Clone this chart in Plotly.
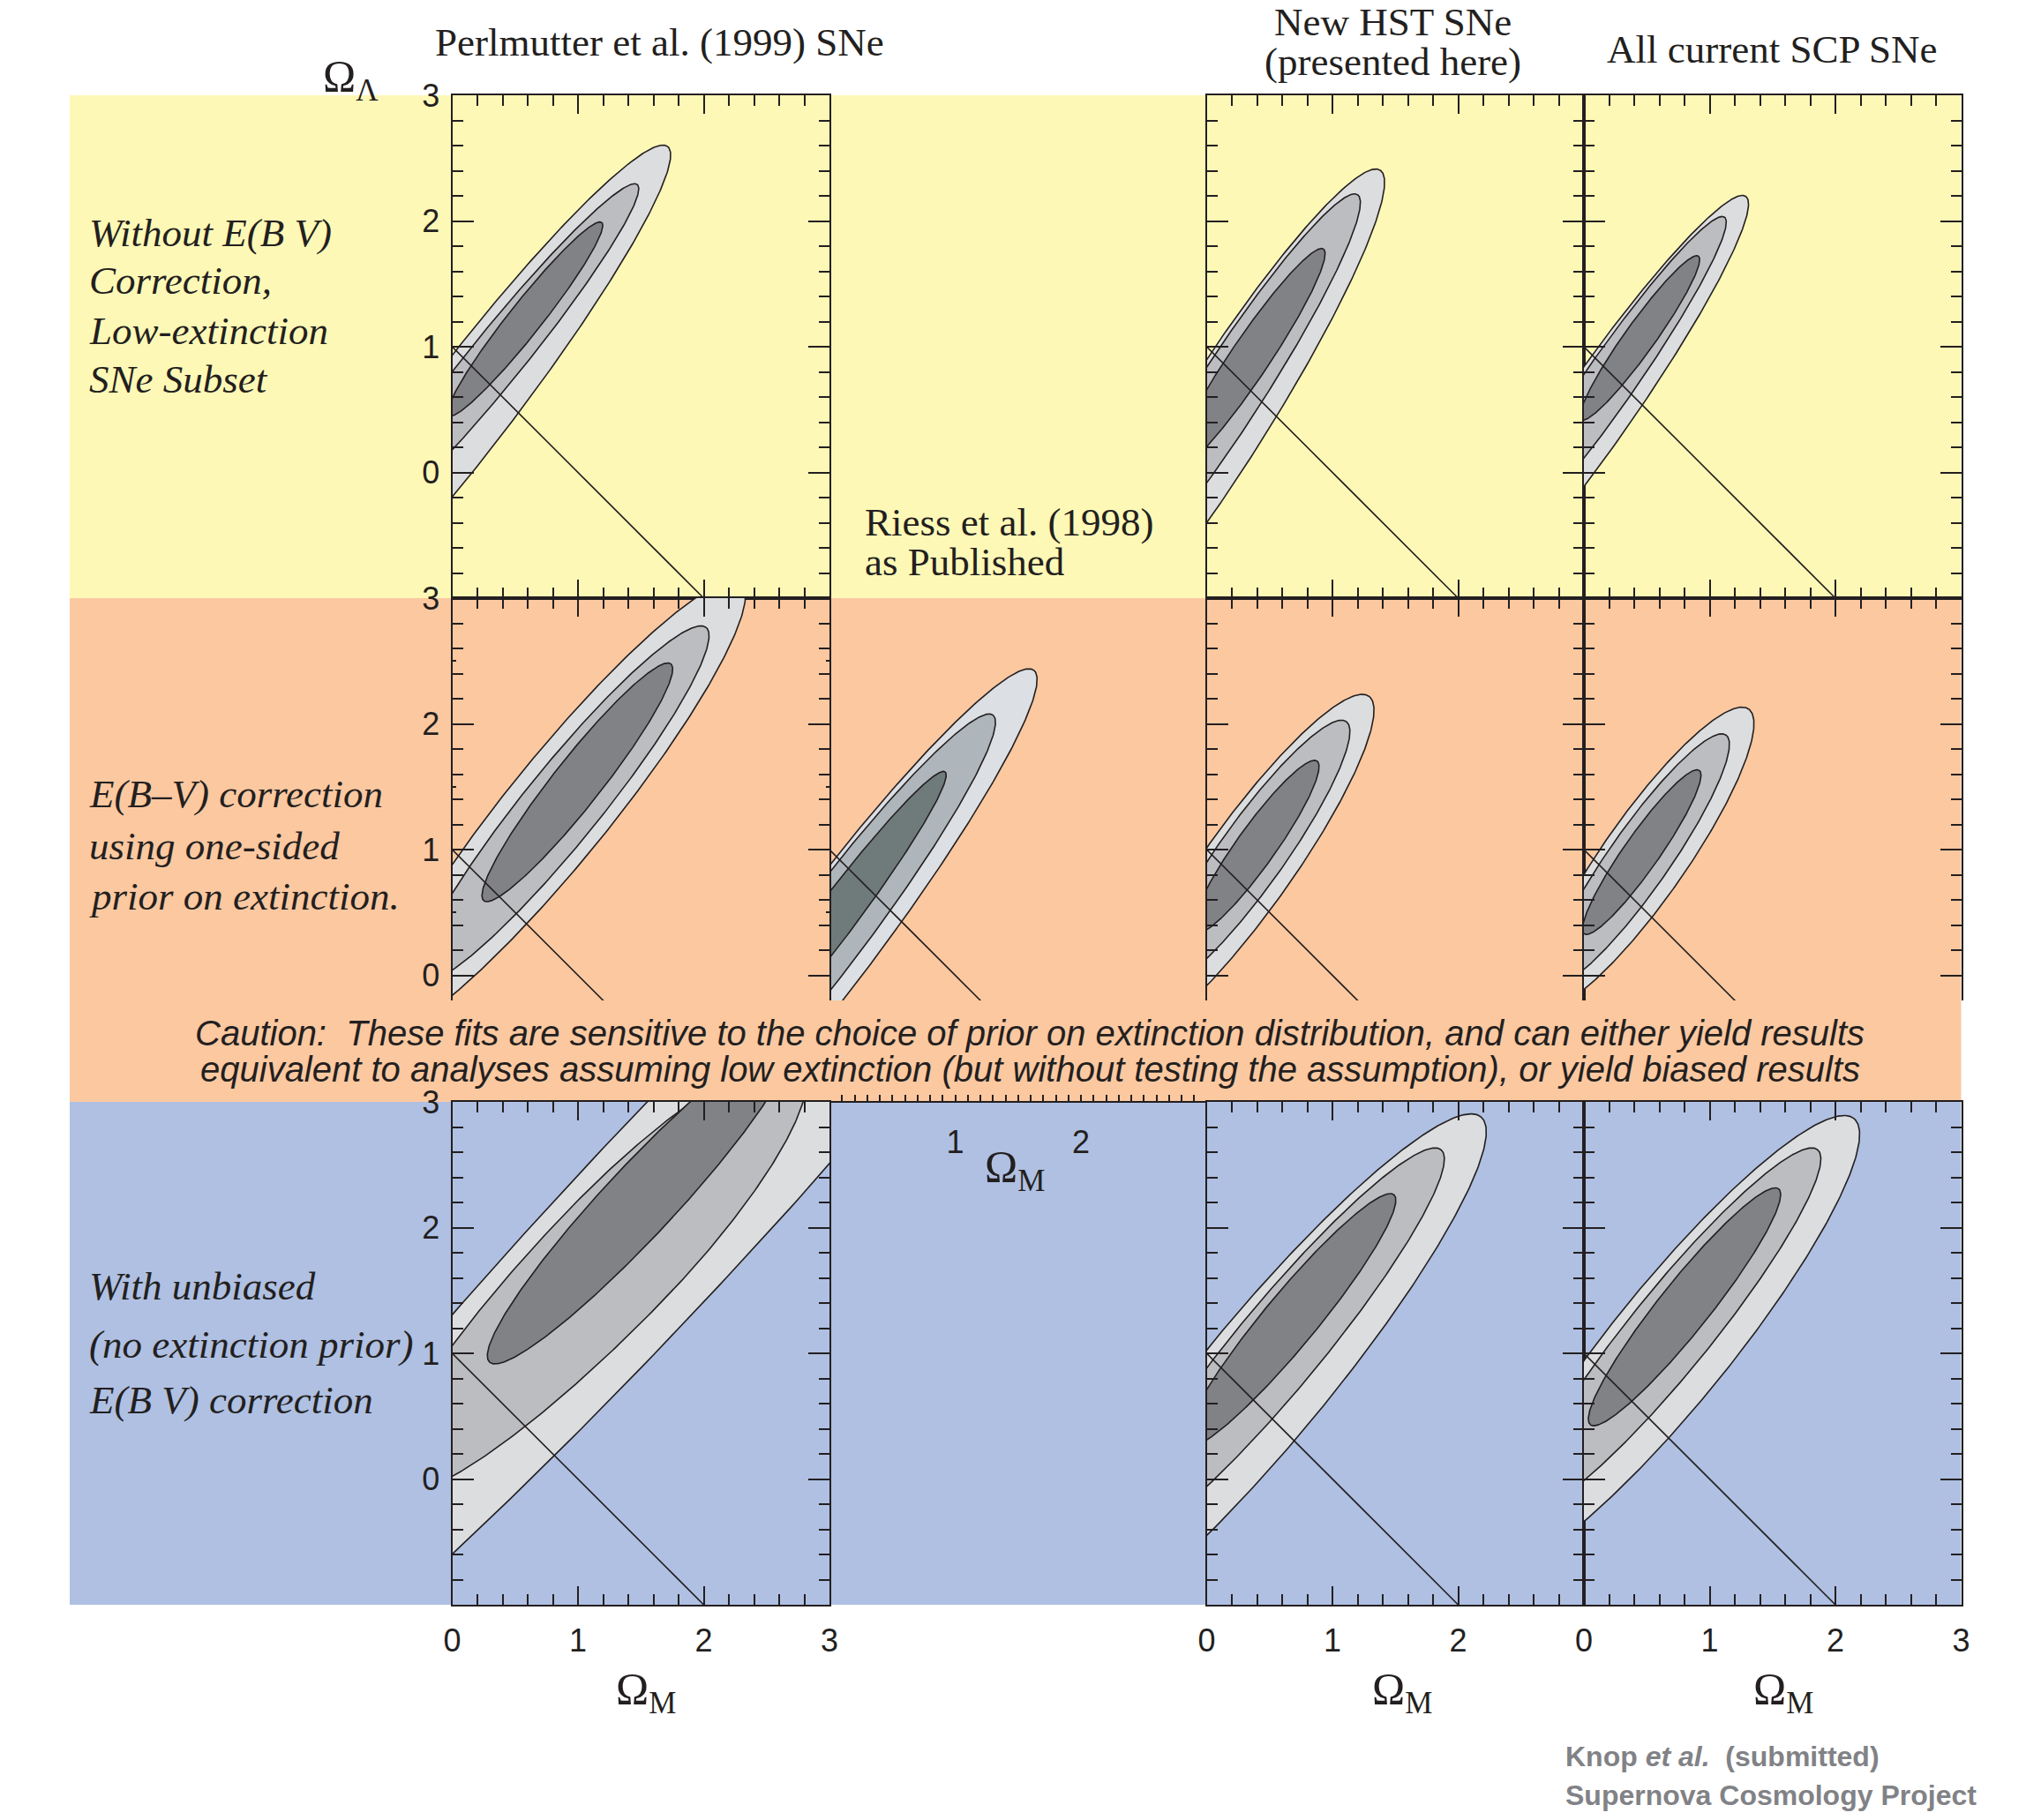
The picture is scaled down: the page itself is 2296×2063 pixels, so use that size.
import numpy as np
import plotly.graph_objects as go

# ---------------------------------------------------------------------------
# Confidence regions in the (Omega_M, Omega_Lambda) plane.
# Each row: centre Omega_M, centre Omega_Lambda, semi-axis towards the upper
# right, semi-axis towards the lower left, semi-minor axis, tilt [deg].
# Rows are ordered outer (99%), middle (95%), inner (68%).
# ---------------------------------------------------------------------------
perlmutter_lowext = [(0.13, 0.53, 2.60, 2.60, 0.35, 52.5),
                     (0.37, 0.93, 1.75, 1.75, 0.21, 51.0),
                     (0.58, 1.22, 0.98, 0.98, 0.13, 51.6)]
hst_lowext = [(0.09, 0.38, 2.40, 2.40, 0.36, 57.5),
              (0.165, 0.616, 1.90, 1.90, 0.26, 57.0),
              (0.33, 0.89, 1.07, 1.07, 0.155, 56.0)]
scp_lowext = [(0.10, 0.50, 2.07, 2.07, 0.28, 55.0),
              (0.20, 0.72, 1.60, 1.60, 0.20, 55.0),
              (0.445, 1.07, 0.80, 0.80, 0.12, 54.4)]

perlmutter_prior = [(0.85, 1.33, 2.30, 2.30, 0.41, 51.0),
                    (0.88, 1.36, 1.81, 1.81, 0.30, 51.0),
                    (0.995, 1.535, 1.20, 1.20, 0.19, 51.7)]
riess_prior = [(0.0, 0.27, 2.70, 2.70, 0.37, 53.0),
               (0.0, 0.345, 2.16, 2.16, 0.29, 53.0),
               (0.017, 0.42, 1.50, 1.50, 0.16, 53.0)]
hst_prior = [(0.32, 0.86, 1.67, 1.67, 0.35, 54.5),
             (0.355, 0.96, 1.30, 1.30, 0.26, 54.5),
             (0.39, 1.02, 0.84, 0.84, 0.155, 54.5)]
scp_prior = [(0.478, 0.93, 1.45, 1.45, 0.33, 55.0),
             (0.436, 0.92, 1.21, 1.21, 0.24, 55.0),
             (0.46, 0.98, 0.795, 0.795, 0.14, 54.9)]

perlmutter_unbiased = [(1.60, 2.02, 6.00, 6.00, 0.71, 47.0),
                       (1.30, 1.78, 2.12, 2.60, 0.52, 46.0),
                       (1.49, 2.21, 1.75, 1.75, 0.28, 47.0)]
hst_unbiased = [(0.46, 0.80, 2.70, 2.70, 0.50, 50.4),
                (0.57, 1.055, 2.03, 2.03, 0.34, 50.4),
                (0.66, 1.26, 1.30, 1.30, 0.21, 50.4)]
scp_unbiased = [(0.70, 1.08, 2.30, 2.30, 0.47, 51.0),
                (0.70, 1.19, 1.84, 1.84, 0.32, 51.0),
                (0.80, 1.37, 1.20, 1.20, 0.20, 51.4)]

# flat universe: Omega_M + Omega_Lambda = 1
flat_om = [0.0, 2.0]
flat_ol = [1.0, -1.0]

# axis tick labels
om_ticks = [0, 1, 2, 3]
om_labels = ["0", "1", "2", "3"]
om_labels_mid = ["0", "1", "2", ""]
ol_ticks = [0, 1, 2, 3]
ol_labels = ["0", "1", "2", "3"]
riess_om_ticks = [1, 2]
riess_om_labels = ["1", "2"]

# ---------------------------------------------------------------------------
# page geometry (pixels)
# ---------------------------------------------------------------------------
W, H = 2296, 2063
COLS = [(512.5, 940.0), (940.0, 1367.5), (1367.5, 1795.0), (1795.0, 2222.5)]
ROWS = [(108.0, 678.0), (678.0, 1134.0), (1249.0, 1819.0)]
YRANGES = [(-1, 3), (-0.2, 3), (-1, 3)]
BAND_LEFT = 79.0
BANDS = [(108.0, 678.0, "#fef8b6"), (678.0, 1249.0, "#fbc8a0"), (1249.0, 1819.0, "#afc0e2")]

INK = "#231f20"
SERIF = "Liberation Serif, Times New Roman, serif"
SANS = "Liberation Sans, Arial, sans-serif"
GREYS = ["#dcdddf", "#bcbdc0", "#808285"]
RIESS_GREYS = ["#dcdfe3", "#aeb6bb", "#6f7b7a"]
FRAME_W = 2.0


def px(x):
    return x / W


def py(y):
    return 1 - y / H


def contour(cx, cy, a_hi, a_lo, b, ang, n=401):
    """Closed outline of a tilted ellipse whose two halves along the major
    axis may have different lengths."""
    t = np.linspace(0, 2 * np.pi, n)
    th = np.radians(ang)
    ct = np.cos(t)
    u = np.where(ct >= 0, a_hi, a_lo) * ct
    v = b * np.sin(t)
    return cx + u * np.cos(th) - v * np.sin(th), cy + u * np.sin(th) + v * np.cos(th)


panels = [
    (0, 0, perlmutter_lowext, GREYS),
    (0, 2, hst_lowext, GREYS),
    (0, 3, scp_lowext, GREYS),
    (1, 0, perlmutter_prior, GREYS),
    (1, 1, riess_prior, RIESS_GREYS),
    (1, 2, hst_prior, GREYS),
    (1, 3, scp_prior, GREYS),
    (2, 0, perlmutter_unbiased, GREYS),
    (2, 2, hst_unbiased, GREYS),
    (2, 3, scp_unbiased, GREYS),
]
RIESS_INDEX = 5
RIESS_LOWER_AXIS = 11

fig = go.Figure()
layout_axes = {}
tickfont = dict(family=SANS, size=36, color=INK)

for i, (r, c, regions, greys) in enumerate(panels, start=1):
    xname = "xaxis" if i == 1 else f"xaxis{i}"
    yname = "yaxis" if i == 1 else f"yaxis{i}"
    xref = "x" if i == 1 else f"x{i}"
    yref = "y" if i == 1 else f"y{i}"
    tx = f"x{RIESS_LOWER_AXIS}" if i == RIESS_INDEX else xref

    for k, params in enumerate(regions):
        ex, ey = contour(*params)
        fig.add_trace(go.Scatter(x=ex, y=ey, mode="lines", fill="toself",
                                 fillcolor=greys[k], line=dict(color=INK, width=1.6),
                                 xaxis=tx, yaxis=yref, hoverinfo="skip", showlegend=False))
    fig.add_trace(go.Scatter(x=flat_om, y=flat_ol, mode="lines",
                             line=dict(color=INK, width=1.6),
                             xaxis=tx, yaxis=yref, hoverinfo="skip", showlegend=False))

    c0, c1 = COLS[c]
    r0, r1 = ROWS[r]
    riess = i == RIESS_INDEX

    xa = dict(domain=[px(c0), px(c1)], range=[0, 3], anchor=yref,
              showgrid=False, zeroline=False, showline=True, linecolor=INK,
              linewidth=FRAME_W, ticks="inside", tickcolor=INK, tickwidth=2,
              ticklen=16 if riess else 21, tick0=0, dtick=0.5 if riess else 1,
              minor=dict(ticks="inside", tick0=0, dtick=0.1 if riess else 0.2,
                         ticklen=7 if riess else 12, tickwidth=2, tickcolor=INK),
              mirror=False if r == 1 else "ticks",
              side="top" if r == 1 else "bottom",
              showticklabels=(r == 2), tickfont=tickfont, ticklabelstandoff=8)
    if r == 2:
        xa.update(tickmode="array", tickvals=om_ticks,
                  ticktext=om_labels_mid if c == 2 else om_labels)
    ya = dict(domain=[py(r1), py(r0)], range=list(YRANGES[r]), anchor=xref,
              showgrid=False, zeroline=False, showline=True, linecolor=INK,
              linewidth=FRAME_W, ticks="inside", tickcolor=INK, tickwidth=2,
              ticklen=8 if riess else 24,
              minor=dict(ticks="inside", tick0=0, dtick=0.5 if riess else 0.2,
                         ticklen=4 if riess else 12, tickwidth=2, tickcolor=INK),
              tickmode="array", tickvals=ol_ticks, ticktext=ol_labels,
              mirror="ticks", showticklabels=(c == 0), tickfont=tickfont,
              ticklabelstandoff=5)
    layout_axes[xname] = xa
    layout_axes[yname] = ya

# lower Omega_M axis of the Riess et al. panel, sitting on top of the bottom row
c0, c1 = COLS[1]
layout_axes[f"xaxis{RIESS_LOWER_AXIS}"] = dict(
    domain=[px(c0), px(c1)], anchor="free", position=py(1249.0), side="bottom",
    range=[0, 3], showgrid=False, zeroline=False, showline=True, linecolor=INK,
    linewidth=FRAME_W, ticks="inside", tickcolor=INK, tickwidth=2, ticklen=7,
    tickmode="array", tickvals=riess_om_ticks, ticktext=riess_om_labels,
    minor=dict(ticks="inside", tick0=0, dtick=0.1, ticklen=7, tickwidth=2, tickcolor=INK),
    tickfont=tickfont, ticklabelstandoff=14)

shapes = [dict(type="rect", xref="paper", yref="paper", layer="below",
               x0=px(BAND_LEFT), x1=px(COLS[-1][1]), y0=py(b1), y1=py(b0),
               fillcolor=col, line=dict(width=0))
          for b0, b1, col in BANDS]


def note(text, x, y, size=45, family=SERIF, color=INK, xanchor="center"):
    return dict(text=text, x=px(x), y=py(y), xref="paper", yref="paper",
                xanchor=xanchor, yanchor="middle", showarrow=False,
                font=dict(family=family, size=size, color=color))


annotations = [
    note("Perlmutter et al. (1999) SNe", 747, 48),
    note("New HST SNe", 1578, 25),
    note("(presented here)", 1578, 70),
    note("All current SCP SNe", 2008, 56),
    note("Ω<sub>Λ</sub>", 397, 90, size=50),
    note("Riess et al. (1998)", 978, 592, xanchor="left"),
    note("as Published", 978, 637, xanchor="left"),
    note("<i>Without E(B V)</i>", 99, 264, xanchor="left"),
    note("<i>Correction,</i>", 99, 318, xanchor="left"),
    note("<i>Low-extinction</i>", 99, 375, xanchor="left"),
    note("<i>SNe Subset</i>", 99, 430, xanchor="left"),
    note("<i>E(B–V) correction</i>", 99, 900, xanchor="left"),
    note("<i>using one-sided</i>", 99, 959, xanchor="left"),
    note("<i>prior on extinction.</i>", 99, 1016, xanchor="left"),
    note("<i>With unbiased</i>", 99, 1458, xanchor="left"),
    note("<i>(no extinction prior)</i>", 99, 1524, xanchor="left"),
    note("<i>E(B V) correction</i>", 99, 1587, xanchor="left"),
    note("<i>Caution:  These fits are sensitive to the choice of prior on extinction "
         "distribution, and can either yield results</i>", 1167, 1171, size=40, family=SANS),
    note("<i>equivalent to analyses assuming low extinction (but without testing the "
         "assumption), or yield biased results</i>", 1167, 1212, size=40, family=SANS),
    note("Ω<sub>M</sub>", 1150, 1326, size=50),
    note("Ω<sub>M</sub>", 732, 1918, size=50),
    note("Ω<sub>M</sub>", 1589, 1918, size=50),
    note("Ω<sub>M</sub>", 2021, 1918, size=50),
    note("<b>Knop <i>et al.</i>&nbsp; (submitted)</b>", 1772, 1991, size=32,
         family=SANS, color="#818286", xanchor="left"),
    note("<b>Supernova Cosmology Project</b>", 1772, 2035, size=32,
         family=SANS, color="#818286", xanchor="left"),
]

fig.update_layout(width=W, height=H,
                  margin=dict(l=0, r=0, t=0, b=0, pad=0, autoexpand=False),
                  paper_bgcolor="white", plot_bgcolor="rgba(0,0,0,0)",
                  showlegend=False, shapes=shapes, annotations=annotations,
                  **layout_axes)

fig.write_html("out.html")
